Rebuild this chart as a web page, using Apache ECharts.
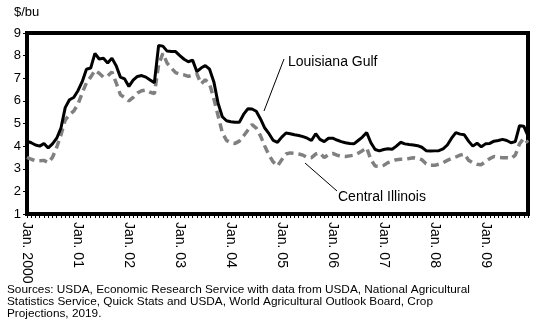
<!DOCTYPE html>
<html><head><meta charset="utf-8">
<script src="https://cdn.jsdelivr.net/npm/echarts@6/dist/echarts.min.js"></script>
<style>html,body{margin:0;padding:0;background:#fff}#c{width:544px;height:326px}</style>
</head><body><div id="c"></div>
<script>
var yearLabels = ["Jan. 2000","Jan. 01","Jan. 02","Jan. 03","Jan. 04","Jan. 05","Jan. 06","Jan. 07","Jan. 08","Jan. 09"];
var louisianaGulf = [
4.22,4.15,4.05,4.0,4.12,3.92,4.1,4.35,4.8,5.7,6.05,6.15,
6.45,6.85,7.4,7.45,8.1,7.85,7.88,7.67,7.89,7.55,7.05,6.97,
6.64,6.92,7.08,7.12,7.05,6.92,6.8,8.45,8.42,8.2,8.18,8.18,
8.0,7.84,7.73,7.8,7.3,7.45,7.56,7.4,6.85,5.9,5.3,5.12,
5.08,5.06,5.05,5.4,5.65,5.64,5.54,5.2,4.8,4.55,4.25,4.17,
4.4,4.58,4.55,4.5,4.47,4.42,4.35,4.25,4.55,4.3,4.2,4.35,
4.35,4.27,4.2,4.15,4.12,4.1,4.25,4.4,4.6,4.15,3.85,3.79,
3.85,3.88,3.86,4.0,4.17,4.1,4.07,4.05,4.02,3.95,3.8,3.78,
3.79,3.8,3.88,4.05,4.35,4.6,4.53,4.5,4.22,4.0,4.13,3.97,
4.1,4.12,4.22,4.25,4.3,4.25,4.15,4.2,4.9,4.88,4.45
];
var centralIllinois = [
3.5,3.42,3.35,3.35,3.37,3.27,3.5,3.95,4.5,5.15,5.4,5.55,
5.85,6.35,6.8,7.05,7.35,7.22,7.05,7.1,7.28,6.8,6.27,6.15,
6.0,6.15,6.35,6.45,6.48,6.38,6.32,7.6,8.1,7.67,7.45,7.25,
7.18,7.15,7.08,7.15,7.2,6.75,6.93,6.75,6.1,5.35,4.6,4.25,
4.15,4.12,4.22,4.45,4.7,4.95,4.8,4.45,4.0,3.6,3.3,3.12,
3.4,3.65,3.7,3.68,3.65,3.6,3.5,3.49,3.65,3.7,3.5,3.62,
3.68,3.6,3.55,3.54,3.57,3.6,3.69,3.8,3.93,3.4,3.12,3.1,
3.15,3.27,3.33,3.4,3.42,3.42,3.45,3.49,3.46,3.4,3.22,3.15,
3.15,3.2,3.27,3.37,3.45,3.52,3.6,3.65,3.38,3.26,3.2,3.18,
3.32,3.45,3.54,3.5,3.49,3.49,3.45,3.6,4.1,4.35,4.15
];
var months = louisianaGulf.map(function(_, i){ return String(i); });
var font = "'Liberation Sans', Arial, sans-serif";
var chart = echarts.init(document.getElementById('c'), null, {renderer:'canvas'});
chart.setOption({
  animation: false,
  backgroundColor: '#fff',
  grid: {left: 27, right: 16, top: 33, bottom: 112, show: true, borderColor: '#000', borderWidth: 4, backgroundColor: 'transparent'},
  xAxis: {
    type: 'category', data: months, boundaryGap: false,
    axisLine: {show: false},
    axisTick: {show: true, interval: 0, length: 4, lineStyle: {color: '#000', width: 1}},
    axisLabel: {
      interval: function(i){ return i % 12 === 0; },
      rotate: -90, margin: 8, color: '#000', fontFamily: font, fontSize: 14,
      formatter: function(v, i){ return yearLabels[i / 12]; }
    },
    splitLine: {show: false}
  },
  yAxis: {
    type: 'value', min: 1, max: 9, interval: 1,
    name: '$/bu', nameLocation: 'end', nameGap: 14,
    nameTextStyle: {color: '#000', fontFamily: font, fontSize: 13, align: 'left', padding: [0,0,0,-13]},
    axisLine: {show: false},
    axisTick: {show: true, length: 4, lineStyle: {color: '#000', width: 1}},
    axisLabel: {color: '#000', fontFamily: font, fontSize: 13, margin: 6},
    splitLine: {show: false}
  },
  series: [
    {name: 'Louisiana Gulf', type: 'line', data: louisianaGulf, symbol: 'none',
     lineStyle: {color: '#000', width: 3}, z: 3},
    {name: 'Central Illinois', type: 'line', data: centralIllinois, symbol: 'none',
     lineStyle: {color: '#808080', width: 3.5, type: [8, 5]}, z: 2}
  ],
  graphic: [
    {type: 'line', shape: {x1: 284, y1: 59, x2: 264, y2: 111}, style: {stroke: '#000', lineWidth: 1}},
    {type: 'text', left: 288, top: 55, style: {text: 'Louisiana Gulf', fill: '#000', font: '14px ' + font}},
    {type: 'line', shape: {x1: 305, y1: 163, x2: 337, y2: 191}, style: {stroke: '#000', lineWidth: 1}},
    {type: 'text', left: 338, top: 190, style: {text: 'Central Illinois', fill: '#000', font: '14px ' + font}},
    {type: 'text', left: 7, top: 284, style: {
      text: 'Sources: USDA, Economic Research Service with data from USDA, National Agricultural\nStatistics Service, Quick Stats and USDA, World Agricultural Outlook Board, Crop\nProjections, 2019.',
      fill: '#000', font: '11.8px ' + font, lineHeight: 11.7}}
  ]
});
</script></body></html>
